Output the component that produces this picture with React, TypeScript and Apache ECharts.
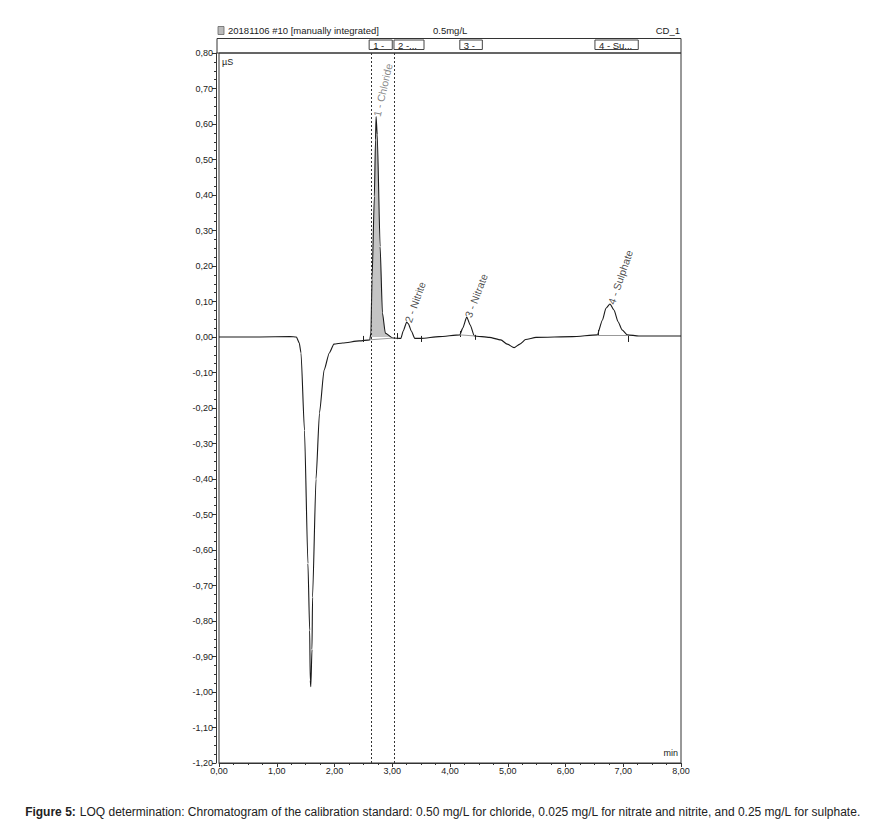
import React, { useEffect, useRef } from "react";
import * as echarts from "echarts";

// Chromatogram trace (time in min, conductivity in µS)
const timeMin = [
  0.0, 0.71, 1.23, 1.34, 1.39, 1.42, 1.48, 1.54, 1.57, 1.58, 1.59, 1.61, 1.62, 1.68, 1.74, 1.82, 1.91, 1.99,
  2.14, 2.43, 2.61, 2.63, 2.65, 2.69, 2.71, 2.72, 2.74, 2.79, 2.83, 2.88, 3.01, 3.15, 3.19, 3.25, 3.28, 3.33,
  3.39, 3.5, 3.81, 4.17, 4.22, 4.29, 4.35, 4.42, 4.68, 4.88, 4.99, 5.11, 5.21, 5.31, 5.49, 6.12, 6.55, 6.64,
  6.7, 6.77, 6.84, 6.91, 6.98, 7.07, 7.27, 7.97, 8.0,
];
const signalUS = [
  0.0, 0.0, 0.001, 0.0, -0.017, -0.045, -0.263, -0.638, -0.826, -0.967, -0.985, -0.88, -0.733, -0.4, -0.214,
  -0.093, -0.045, -0.02, -0.017, -0.011, -0.008, 0.011, 0.161, 0.396, 0.555, 0.621, 0.57, 0.255, 0.068, 0.011,
  -0.003, -0.004, 0.017, 0.042, 0.037, 0.017, -0.004, -0.004, 0.001, 0.006, 0.025, 0.056, 0.034, 0.003, -0.001,
  -0.008, -0.02, -0.03, -0.02, -0.007, -0.001, 0.001, 0.006, 0.048, 0.081, 0.093, 0.076, 0.043, 0.02, 0.006,
  0.003, 0.003, 0.003,
];

// Peaks
const peakNames = ["1 - Chloride", "2 - Nitrite", "3 - Nitrate", "4 - Sulphate"];
const peakTimes = [2.72, 3.25, 4.29, 6.77];
const peakHeights = [0.621, 0.042, 0.056, 0.093];
const peakRotate = [77, 70, 69, 71];
const peakColors = ["#666", "#222", "#222", "#222"];

// Chloride shaded integration window
const chlorideFrom = 2.61;
const chlorideTo = 3.01;

// Header peak boxes
const boxLabels = ["1 -", "2 -...", "3 -", "4 - Su..."];
const boxStart = [2.6, 3.03, 4.17, 6.51];
const boxEnd = [3.0, 3.55, 4.56, 7.26];

// Dashed window lines
const windowLines = [2.63, 3.04];

// Integration delimiters [time, top, bottom]
const tickTimes = [2.5, 3.09, 3.51, 4.17, 4.44, 6.57, 7.09];
const tickTop = [0.003, 0.011, 0.003, 0.017, 0.006, 0.02, 0.003];
const tickBottom = [-0.014, -0.006, -0.014, 0.0, -0.008, 0.003, -0.014];

// Integration baselines
const baseFromT = [2.61, 4.17, 6.55];
const baseFromV = [-0.008, 0.006, 0.006];
const baseToT = [3.01, 4.42, 7.07];
const baseToV = [-0.003, 0.003, 0.006];

// Axis
const yMin = -1.2;
const yMax = 0.8;
const xMin = 0;
const xMax = 8;

const headerTitle = "20181106 #10 [manually integrated]";
const headerSample = "0.5mg/L";
const headerChannel = "CD_1";
const caption =
  "LOQ determination: Chromatogram of the calibration standard: 0.50 mg/L for chloride, 0.025 mg/L for nitrate and nitrite, and 0.25 mg/L for sulphate.";

const FONT = "Liberation Sans, Arial, sans-serif";
const fmt = (v: number) => {
  const s = (Math.abs(v) < 1e-9 ? 0 : v).toFixed(2).replace(".", ",");
  return s;
};

export default function App() {
  const ref = useRef<HTMLDivElement>(null);
  useEffect(() => {
    if (!ref.current) return;
    const chart = echarts.init(ref.current, null, { renderer: "svg" });
    const trace = timeMin.map((t, i) => [t, signalUS[i]]);
    const chloride = trace.filter((p) => p[0] >= chlorideFrom && p[0] <= chlorideTo);

    const markData: any[] = [];
    windowLines.forEach((t) =>
      markData.push({ xAxis: t, lineStyle: { type: [2, 2], color: "#333", width: 1 } })
    );
    tickTimes.forEach((t, i) =>
      markData.push([
        { coord: [t, tickTop[i]], lineStyle: { type: "solid", color: "#222", width: 1 } },
        { coord: [t, tickBottom[i]] },
      ])
    );
    baseFromT.forEach((t, i) =>
      markData.push([
        { coord: [t, baseFromV[i]], lineStyle: { type: "solid", color: "#999", width: 1 } },
        { coord: [baseToT[i], baseToV[i]] },
      ])
    );

    const option: any = {
      animation: false,
      backgroundColor: "#fff",
      textStyle: { fontFamily: FONT },
      grid: {
        left: 219,
        right: 208,
        top: 53,
        bottom: 68,
        show: true,
        borderColor: "#333",
        borderWidth: 1,
        backgroundColor: "transparent",
      },
      xAxis: {
        type: "value",
        min: xMin,
        max: xMax,
        interval: 1,
        axisLine: { show: true, onZero: false, lineStyle: { color: "#333" } },
        axisTick: { show: true, length: 4, lineStyle: { color: "#333" } },
        minorTick: { show: true, splitNumber: 4, length: 2, lineStyle: { color: "#333" } },
        splitLine: { show: false },
        axisLabel: { formatter: fmt, fontSize: 9, color: "#222", margin: 3, fontFamily: FONT, showMaxLabel: true },
      },
      yAxis: {
        type: "value",
        min: yMin,
        max: yMax,
        interval: 0.1,
        offset: 3,
        axisLine: { show: true, onZero: false, lineStyle: { color: "#333" } },
        axisTick: { show: true, length: 4, lineStyle: { color: "#333" } },
        minorTick: { show: true, splitNumber: 4, length: 2, lineStyle: { color: "#333" } },
        splitLine: { show: false },
        axisLabel: { formatter: fmt, fontSize: 9, color: "#222", margin: 3, fontFamily: FONT },
      },
      series: [
        {
          type: "line",
          data: chloride,
          symbol: "none",
          smooth: 0.2,
          smoothMonotone: "x",
          lineStyle: { width: 0 },
          areaStyle: { color: "#c4c4c4", opacity: 1 },
          silent: true,
          z: 1,
        },
        {
          type: "line",
          data: trace,
          symbol: "none",
          smooth: 0.2,
          smoothMonotone: "x",
          lineStyle: { color: "#1a1a1a", width: 1.1 },
          silent: true,
          z: 3,
          markLine: {
            silent: true,
            symbol: ["none", "none"],
            label: { show: false },
            animation: false,
            data: markData,
          },
        },
        {
          type: "scatter",
          data: peakTimes.map((t, i) => ({
            value: [t, peakHeights[i]],
            label: { rotate: peakRotate[i], color: peakColors[i] },
          })),
          symbolSize: 0.1,
          itemStyle: { color: "rgba(0,0,0,0)" },
          silent: true,
          z: 4,
          label: {
            show: true,
            position: "right",
            distance: 1,
            align: "left",
            verticalAlign: "middle",
            fontSize: 10.5,
            fontFamily: FONT,
            formatter: (p: any) => peakNames[p.dataIndex],
          },
        },
      ],
    };
    chart.setOption(option);

    const px = (t: number, v: number) => chart.convertToPixel({ gridIndex: 0 }, [t, v]) as number[];
    const [gl, gt] = px(xMin, yMax);
    const [gr, gb] = px(xMax, yMin);
    const graphics: any[] = [];
    // header title line
    graphics.push({
      type: "rect",
      shape: { x: gl - 1, y: 26.5, width: 6, height: 8 },
      style: { fill: "#bbb", stroke: "#666", lineWidth: 0.8 },
    });
    graphics.push({
      type: "text",
      x: gl + 9,
      y: 30.5,
      style: { text: headerTitle, fontSize: 9.5, fontFamily: FONT, fill: "#222", verticalAlign: "middle" },
    });
    graphics.push({
      type: "text",
      x: 433,
      y: 30.5,
      style: { text: headerSample, fontSize: 9.5, fontFamily: FONT, fill: "#222", verticalAlign: "middle" },
    });
    graphics.push({
      type: "text",
      x: gr - 1,
      y: 30.5,
      style: { text: headerChannel, fontSize: 9.5, fontFamily: FONT, fill: "#222", align: "right", verticalAlign: "middle" },
    });
    // header band
    graphics.push({
      type: "rect",
      shape: { x: gl - 2, y: 38.5, width: gr - gl + 2, height: gt - 38.5 },
      style: { fill: "none", stroke: "#333", lineWidth: 1 },
    });
    boxLabels.forEach((lab, i) => {
      const x0 = px(boxStart[i], 0)[0];
      const x1 = px(boxEnd[i], 0)[0];
      graphics.push({
        type: "rect",
        shape: { x: x0, y: 40, width: x1 - x0, height: 9.5 },
        style: { fill: "#fff", stroke: "#444", lineWidth: 1 },
      });
      graphics.push({
        type: "text",
        x: x0 + 4,
        y: 45,
        style: { text: lab, fontSize: 9.5, fontFamily: FONT, fill: "#222", verticalAlign: "middle" },
      });
    });
    graphics.push({
      type: "text",
      x: gl + 3,
      y: 62,
      style: { text: "µS", fontSize: 9, fontFamily: FONT, fill: "#222", verticalAlign: "middle" },
    });
    graphics.push({
      type: "text",
      x: gr - 3,
      y: gb - 10,
      style: { text: "min", fontSize: 9, fontFamily: FONT, fill: "#222", align: "right", verticalAlign: "middle" },
    });
    graphics.push({
      type: "text",
      x: 443,
      y: 812,
      style: {
        text: "{b|Figure 5:} " + caption,
        fontSize: 12,
        fontFamily: FONT,
        fill: "#222",
        align: "center",
        verticalAlign: "middle",
        rich: { b: { fontWeight: "bold", fontSize: 12, fontFamily: FONT, fill: "#222" } },
      },
    });
    chart.setOption({ graphic: graphics });
    return () => chart.dispose();
  }, []);
  return <div ref={ref} style={{ position: "absolute", left: 0, top: 0, width: 889, height: 831 }} />;
}
